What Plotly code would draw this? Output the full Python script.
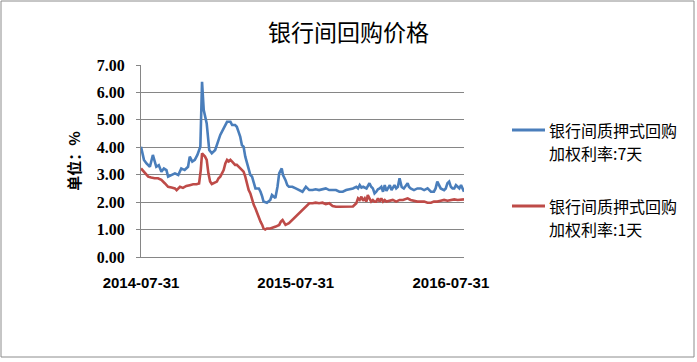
import pandas as pd
import plotly.graph_objects as go

# ---------------- data ----------------
start_date = "2014-07-31"
end_date = "2016-08-31"

tick_dates = ["2014-07-31", "2015-07-31", "2016-07-31"]
tick_labels = ["2014-07-31", "2015-07-31", "2016-07-31"]

y_ticks = [0, 1, 2, 3, 4, 5, 6, 7]
y_tick_labels = ["0.00", "1.00", "2.00", "3.00", "4.00", "5.00", "6.00", "7.00"]

series_7d_lines = ["银行间质押式回购", "加权利率:7天"]
series_1d_lines = ["银行间质押式回购", "加权利率:1天"]

# days after 2014-07-31
days_7d = [0, 7, 13, 21, 28, 36, 42, 48, 54, 60, 64, 72, 80, 88, 95, 103, 111, 115,
           121, 127, 133, 140, 144, 148, 152, 155, 161, 167, 175, 179, 187, 195, 199,
           203, 211, 215, 222, 226, 230, 234, 238, 242, 246, 250, 254, 258, 262, 266,
           270, 278, 282, 286, 289, 297, 305, 309, 317, 322, 326, 332, 335, 341, 345,
           349, 357, 365, 373, 381, 389, 393, 397, 405, 412, 420, 428, 436, 444, 452,
           460, 468, 476, 484, 492, 500, 508, 512, 516, 520, 524, 532, 539, 543, 547,
           551, 555, 559, 563, 567, 571, 575, 579, 583, 587, 591, 594, 598, 602, 606,
           610, 615, 620, 629, 632, 636, 644, 652, 660, 668, 676, 684, 691, 695, 699,
           703, 707, 715, 719, 723, 727, 731, 735, 739, 743, 747, 751, 755, 759, 762]
rate_7d = [4.02, 3.54, 3.41, 3.29, 3.72, 3.29, 3.35, 3.11, 3.23, 3.17, 2.93, 2.99, 3.05,
           2.99, 3.23, 3.17, 3.29, 3.66, 3.48, 3.54, 3.72, 4.02, 6.39, 5.36, 4.99, 4.87,
           3.90, 3.78, 3.90, 4.08, 4.45, 4.69, 4.81, 4.93, 4.93, 4.81, 4.81, 4.75, 4.57,
           4.39, 4.08, 4.02, 3.66, 3.41, 3.17, 2.99, 2.93, 2.69, 2.50, 2.50, 2.38, 2.20,
           2.02, 1.98, 2.08, 2.26, 2.15, 2.56, 3.05, 3.23, 2.99, 2.80, 2.62, 2.56, 2.56,
           2.50, 2.44, 2.38, 2.56, 2.50, 2.44, 2.44, 2.47, 2.44, 2.47, 2.50, 2.44, 2.44,
           2.44, 2.38, 2.38, 2.44, 2.47, 2.50, 2.56, 2.50, 2.62, 2.53, 2.56, 2.50, 2.69,
           2.56, 2.50, 2.32, 2.38, 2.47, 2.50, 2.56, 2.38, 2.62, 2.41, 2.50, 2.62, 2.44,
           2.50, 2.62, 2.50, 2.56, 2.87, 2.55, 2.50, 2.69, 2.56, 2.50, 2.44, 2.50, 2.50,
           2.44, 2.50, 2.38, 2.38, 2.50, 2.75, 2.62, 2.50, 2.44, 2.50, 2.69, 2.75, 2.56,
           2.50, 2.50, 2.62, 2.56, 2.50, 2.62, 2.50, 2.38]

days_1d = [0, 9, 17, 24, 32, 40, 48, 56, 64, 72, 80, 84, 92, 99, 107, 115, 123, 131,
           137, 141, 144, 151, 155, 159, 163, 167, 171, 175, 179, 183, 187, 191, 195,
           199, 203, 207, 211, 215, 218, 222, 226, 230, 234, 238, 242, 246, 250, 254,
           258, 262, 266, 270, 274, 278, 282, 286, 289, 293, 297, 305, 310, 318, 326,
           330, 334, 338, 341, 349, 357, 365, 373, 381, 389, 397, 405, 412, 420, 428,
           436, 444, 452, 460, 468, 476, 484, 492, 500, 508, 512, 516, 520, 524, 528,
           532, 535, 539, 543, 547, 551, 555, 559, 563, 567, 571, 575, 579, 587, 594,
           602, 610, 618, 629, 636, 644, 652, 660, 668, 676, 684, 691, 699, 707, 715,
           723, 731, 739, 747, 755, 762]
rate_1d = [3.23, 3.05, 2.93, 2.90, 2.87, 2.87, 2.81, 2.69, 2.56, 2.53, 2.50, 2.44, 2.56,
           2.52, 2.59, 2.62, 2.65, 2.65, 2.68, 3.17, 3.78, 3.66, 3.54, 3.05, 2.75, 2.66,
           2.69, 2.71, 2.75, 2.87, 2.93, 3.05, 3.17, 3.41, 3.54, 3.48, 3.54, 3.48, 3.42,
           3.36, 3.36, 3.30, 3.23, 3.17, 3.11, 2.93, 2.69, 2.44, 2.32, 2.08, 1.90, 1.77,
           1.59, 1.41, 1.29, 1.17, 1.04, 1.00, 1.04, 1.04, 1.06, 1.11, 1.17, 1.29, 1.35,
           1.23, 1.17, 1.23, 1.35, 1.47, 1.59, 1.71, 1.84, 1.96, 1.96, 1.98, 1.96, 1.98,
           1.93, 1.96, 1.86, 1.83, 1.83, 1.83, 1.83, 1.83, 1.84, 1.96, 2.14, 2.08, 2.20,
           2.05, 2.14, 2.02, 2.26, 2.14, 2.02, 2.08, 2.02, 2.02, 2.14, 2.02, 2.14, 2.02,
           2.08, 2.02, 2.05, 2.08, 2.02, 2.08, 2.08, 2.14, 2.08, 2.05, 2.02, 2.02, 2.02,
           1.98, 1.98, 2.02, 2.02, 2.05, 2.08, 2.05, 2.08, 2.10, 2.08, 2.10, 2.10]

# ---------------- figure ----------------
W, H = 697, 362
L, R, T, B = 141, 233, 65, 105
plot_w = W - L - R
plot_h = H - T - B

base = pd.Timestamp(start_date)
x_7d = [base + pd.Timedelta(days=d) for d in days_7d]
x_1d = [base + pd.Timedelta(days=d) for d in days_1d]

BLUE = "#4A7EBB"
RED = "#BE4B48"
GRID = "#868686"
CJK = "Noto Sans CJK SC"

fig = go.Figure()
fig.add_trace(go.Scatter(x=x_7d, y=rate_7d, mode="lines",
                         name="".join(series_7d_lines),
                         line=dict(color=BLUE, width=2.6)))
fig.add_trace(go.Scatter(x=x_1d, y=rate_1d, mode="lines",
                         name="".join(series_1d_lines),
                         line=dict(color=RED, width=2.6)))


def px_x(p):
    return (p - L) / plot_w


def px_y(p):
    return (H - B - p) / plot_h


# outer chart border
fig.add_shape(type="rect", xref="paper", yref="paper",
              x0=px_x(1), x1=px_x(694), y0=px_y(357), y1=px_y(1),
              line=dict(color="#8C8C8C", width=1), fillcolor="rgba(0,0,0,0)",
              layer="below")

# legend (symbol line + two text lines per series)
legend_items = [(BLUE, series_7d_lines, 130), (RED, series_1d_lines, 206)]
for color, lines, y0 in legend_items:
    fig.add_shape(type="line", xref="paper", yref="paper",
                  x0=px_x(512), x1=px_x(545), y0=px_y(y0), y1=px_y(y0),
                  line=dict(color=color, width=3))
    for i, txt in enumerate(lines):
        fig.add_annotation(xref="paper", yref="paper",
                           x=px_x(547), y=px_y(y0 + i * 23),
                           xanchor="left", yanchor="middle", showarrow=False,
                           text=txt, font=dict(family=CJK, size=16, color="black"))

fig.update_layout(
    width=W, height=H,
    margin=dict(l=L, r=R, t=T, b=B, pad=0, autoexpand=False),
    paper_bgcolor="white", plot_bgcolor="white",
    title=dict(text="银行间回购价格", x=0.5, xref="container", xanchor="center",
               y=1 - 33 / H, yanchor="middle",
               font=dict(family=CJK, size=23, color="black")),
    showlegend=False,
    xaxis=dict(type="date", range=[start_date, end_date],
               tickvals=tick_dates, ticktext=tick_labels,
               showgrid=False, showline=True, linecolor=GRID, linewidth=1,
               ticks="", ticklabelstandoff=12, automargin=False,
               tickfont=dict(family="Liberation Sans", size=15, color="black",
                             weight="bold"),
               zeroline=False, fixedrange=True),
    yaxis=dict(range=[0, 7], tickvals=y_ticks, ticktext=y_tick_labels,
               showgrid=True, gridcolor=GRID, gridwidth=1,
               showline=True, linecolor=GRID, linewidth=1,
               ticks="outside", ticklen=4, tickcolor=GRID, ticklabelstandoff=8,
               automargin=False,
               tickfont=dict(family="Liberation Serif", size=16, color="black",
                             weight="bold"),
               title=dict(text="单位：%", standoff=12,
                          font=dict(family=CJK, size=15, color="black",
                                    weight="bold")),
               zeroline=False, fixedrange=True),
)

fig.write_html("out.html",
               config={"displayModeBar": False},
               post_script="document.body.style.margin='0';"
                           "document.body.style.padding='0';")
